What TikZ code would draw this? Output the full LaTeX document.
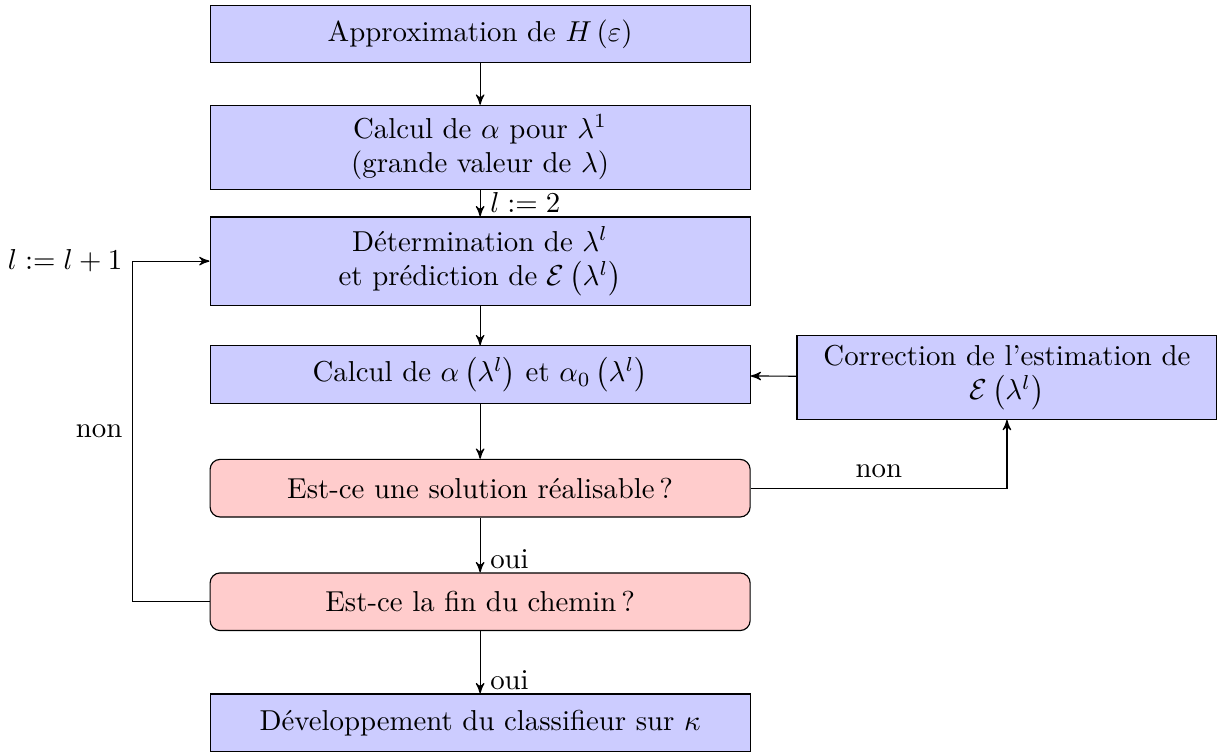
\documentclass[tikz,border=0pt]{standalone}
\usepackage{amsmath}
\usepackage{tikz}
\usetikzlibrary{arrows,positioning}

\begin{document}
\begin{tikzpicture}[->,>=stealth',auto,node
distance=39.4pt,etape/.style={rectangle,draw,fill=blue!20,minimum
width=187.4pt,minimum height=20pt,align=center},
test/.style={etape,fill=red!20,rounded corners=3.5pt},
lbl/.style={pos=1,anchor=base west,yshift=1.5pt}]

    \useasboundingbox (0,0) rectangle (422.3pt,-260.6pt);

    \node[etape] (approx) at (166.6pt,-11.8pt) {Approximation de $H\left(\varepsilon\right)$};
    \node[etape] (init) [below of=approx] {Calcul de $\alpha$ pour $\lambda^1$\\(grande valeur de $\lambda$)};
    \node[etape] (det) [below of=init] {D\'etermination de $\lambda^l$\\et pr\'ediction de $\mathcal{E}\left(\lambda^l\right)$};
    \node[etape] (calc) [below of=det] {Calcul de $\alpha\left(\lambda^l\right)$ et $\alpha_0\left(\lambda^l\right)$};
    \node[test] (real) [below of=calc] {Est-ce une solution r\'ealisable\,?};
    \node[test] (fin) [below of=real] {Est-ce la fin du chemin\,?};
    \node[etape] (dev) [below of=fin,node distance=42pt] {D\'eveloppement du classifieur sur $\kappa$};
    \node[etape,minimum width=145.7pt,minimum height=28.8pt,yshift=-0.9pt] (corr) [right of=calc,node
distance=182.8pt] {Correction de l'estimation de\\$\mathcal{E}\left(\lambda^l\right)$};

    \path (approx) edge (init) (init) edge node[lbl] {$l:=2$} (det)
(det) edge (calc) (calc) edge (real) (real) edge node[lbl] {oui} (fin)
(fin) edge node[lbl] {oui} (dev) (corr) edge (calc);

    % boucles
    \draw (real.east) -| node[pos=0.25,above] {non} (corr.south);
    \draw (fin.west) -- ++(-26.7pt,0) |- node[pos=0.25,left] {non}
node[pos=0.5,left] {$l:=l+1$} (det.west);
  \end{tikzpicture}
\end{document}
